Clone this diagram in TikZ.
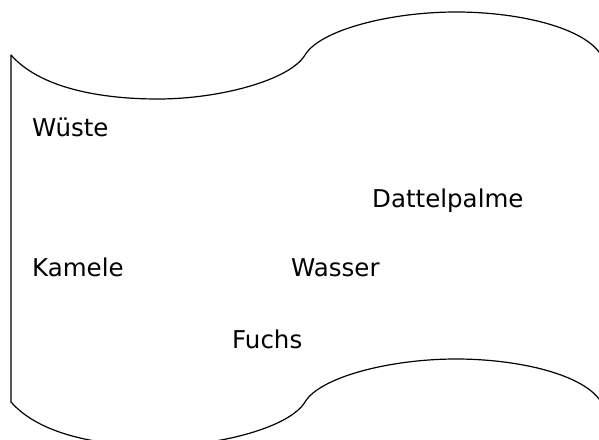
\documentclass[tikz,border=0pt]{standalone}
\usepackage{fontspec}
\setmainfont{DejaVu Sans}
\begin{document}
\begin{tikzpicture}[x=1pt,y=-1pt,
  lbl/.style={inner sep=0pt,anchor=base west,font=\fontsize{24.5}{28}\selectfont},
  tape/.style={draw=black,line width=1.2pt,line join=round}]
\useasboundingbox (0,0) rectangle (599,439);
\fill[white] (0,0) rectangle (599,439);
\draw[tape] (11,55)
  .. controls (40,88) and (100,99) .. (158,99)
  .. controls (220,99) and (290,80) .. (305,55)
  .. controls (320,30) and (390,12) .. (456,12)
  .. controls (520,12) and (585,28) .. (601,55)
  -- (601,402)
  .. controls (585,375) and (520,359) .. (456,359)
  .. controls (390,359) and (320,377) .. (305,402)
  .. controls (290,427) and (220,446) .. (158,446)
  .. controls (100,446) and (40,435) .. (11,402)
  -- cycle;
\node[lbl] (wueste) at (32,136) {Wüste};
\node[lbl] (dattel) at (372,207) {Dattelpalme};
\node[lbl] (kamele) at (32,276) {Kamele};
\node[lbl] (wasser) at (291,276) {Wasser};
\node[lbl] (fuchs) at (232,348) {Fuchs};
\end{tikzpicture}
\end{document}
